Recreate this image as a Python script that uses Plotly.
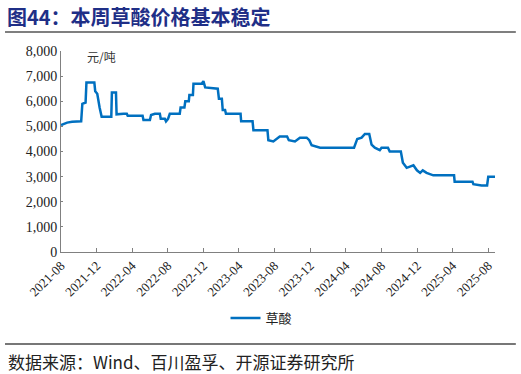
import plotly.graph_objects as go

dates = [
    "2021-08-01", "2021-08-22", "2021-09-08", "2021-10-09", "2021-10-13", "2021-10-24",
    "2021-10-27", "2021-11-23", "2021-11-26", "2021-12-03", "2021-12-11", "2021-12-18",
    "2022-01-20", "2022-01-22", "2022-02-05", "2022-02-07", "2022-03-03", "2022-03-14",
    "2022-03-17", "2022-05-07", "2022-05-10", "2022-06-01", "2022-06-05", "2022-06-18",
    "2022-07-05", "2022-07-08", "2022-07-22", "2022-07-26", "2022-08-02", "2022-08-08",
    "2022-09-11", "2022-09-14", "2022-09-27", "2022-09-30", "2022-10-12", "2022-10-14",
    "2022-10-26", "2022-10-28", "2022-11-25", "2022-12-01", "2022-12-07", "2023-01-19",
    "2023-01-23", "2023-02-02", "2023-02-05", "2023-02-13", "2023-02-16", "2023-04-07",
    "2023-04-09", "2023-05-18", "2023-05-21", "2023-07-08", "2023-07-11", "2023-07-28",
    "2023-08-19", "2023-09-13", "2023-09-19", "2023-10-10", "2023-10-27", "2023-11-19",
    "2023-11-28", "2023-12-06", "2024-01-04", "2024-04-29", "2024-05-10", "2024-05-25",
    "2024-06-05", "2024-06-20", "2024-06-28", "2024-07-09", "2024-07-26", "2024-08-01",
    "2024-08-23", "2024-08-29", "2024-10-06", "2024-10-13", "2024-10-26", "2024-11-18",
    "2024-11-30", "2024-12-11", "2024-12-20", "2025-01-02", "2025-01-25", "2025-04-06",
    "2025-04-08", "2025-06-08", "2025-06-11", "2025-07-09", "2025-07-28", "2025-08-01",
    "2025-08-24",
]
prices = [
    5050, 5150, 5180, 5200, 5900, 5950,
    6750, 6750, 6400, 6300, 5750, 5380,
    5380, 6350, 6350, 5480, 5500, 5500,
    5420, 5420, 5250, 5250, 5450, 5500,
    5500, 5300, 5300, 5200, 5300, 5500,
    5500, 5750, 5750, 6000, 6000, 6250,
    6250, 6700, 6700, 6800, 6550, 6500,
    6100, 6100, 5650, 5650, 5500, 5500,
    5200, 5200, 4850, 4850, 4450, 4400,
    4600, 4600, 4450, 4400, 4550, 4550,
    4450, 4250, 4150, 4150, 4500, 4550,
    4700, 4700, 4270, 4150, 4050, 4150,
    4150, 4000, 4000, 3550, 3350, 3450,
    3250, 3150, 3250, 3150, 3050, 3050,
    2800, 2800, 2700, 2650, 2650, 3000,
    3000,
]
tick_dates = ["2021-08-01", "2021-12-01", "2022-04-01", "2022-08-01", "2022-12-01",
              "2023-04-01", "2023-08-01", "2023-12-01", "2024-04-01", "2024-08-01",
              "2024-12-01", "2025-04-01", "2025-08-01"]
tick_labels = ["2021-08", "2021-12", "2022-04", "2022-08", "2022-12", "2023-04", "2023-08",
               "2023-12", "2024-04", "2024-08", "2024-12", "2025-04", "2025-08"]
series_name = "草酸"
title_text = "<b>图44：本周草酸价格基本稳定</b>"
unit_text = "元/吨"
source_text = "数据来源：Wind、百川盈孚、开源证券研究所"

SERIF = "'Liberation Serif', 'Times New Roman', serif"
CJK = "Noto Sans CJK SC"

fig = go.Figure()
fig.add_trace(go.Scatter(
    x=dates, y=prices, mode="lines", name=series_name,
    line=dict(color="#0070C0", width=2.5),
))

fig.update_layout(
    width=521, height=374,
    margin=dict(l=61, r=26, t=51, b=122),
    plot_bgcolor="white", paper_bgcolor="white",
    showlegend=True,
    legend=dict(orientation="h", x=0.462, xanchor="center", y=-0.328, yanchor="middle",
                font=dict(family=CJK, size=13, color="#222222"),
                bgcolor="rgba(0,0,0,0)"),
    xaxis=dict(
        type="date", range=["2021-08-01", "2025-08-24"],
        tickvals=tick_dates, ticktext=tick_labels, tickangle=-45,
        showgrid=False, showline=True, linecolor="#808080", linewidth=1,
        ticks="inside", ticklen=4, tickcolor="#808080",
        tickfont=dict(family=SERIF, size=13, color="#222222"),
        zeroline=False,
    ),
    yaxis=dict(
        range=[0, 8000], dtick=1000, tickformat=",",
        showgrid=False, showline=True, linecolor="#808080", linewidth=1,
        ticks="inside", ticklen=2, tickcolor="#808080",
        tickfont=dict(family=SERIF, size=14, color="#222222"),
        zeroline=False,
    ),
)

fig.add_annotation(text=title_text, xref="paper", yref="paper", x=-0.129, y=1.17,
                   xanchor="left", yanchor="middle", showarrow=False,
                   font=dict(family=CJK, size=20, color="#1F2F87"))
fig.add_annotation(text=unit_text, xref="paper", yref="paper", x=0.055, y=0.975,
                   xanchor="left", yanchor="middle", showarrow=False,
                   font=dict(family=CJK, size=12, color="#333333"))
fig.add_annotation(text=source_text, xref="paper", yref="paper", x=-0.127, y=-0.547,
                   xanchor="left", yanchor="middle", showarrow=False,
                   font=dict(family=CJK, size=17, color="#222222"))

fig.add_shape(type="line", xref="paper", yref="paper", x0=-0.129, x1=1.048,
              y0=1.0945, y1=1.0945, line=dict(color="#555555", width=1.5))
fig.add_shape(type="line", xref="paper", yref="paper", x0=-0.129, x1=1.048,
              y0=-0.4577, y1=-0.4577, line=dict(color="#777777", width=2))

fig.write_html("out.html", config={"displayModeBar": False},
               post_script="document.body.style.margin='0';document.body.style.overflow='hidden';")
